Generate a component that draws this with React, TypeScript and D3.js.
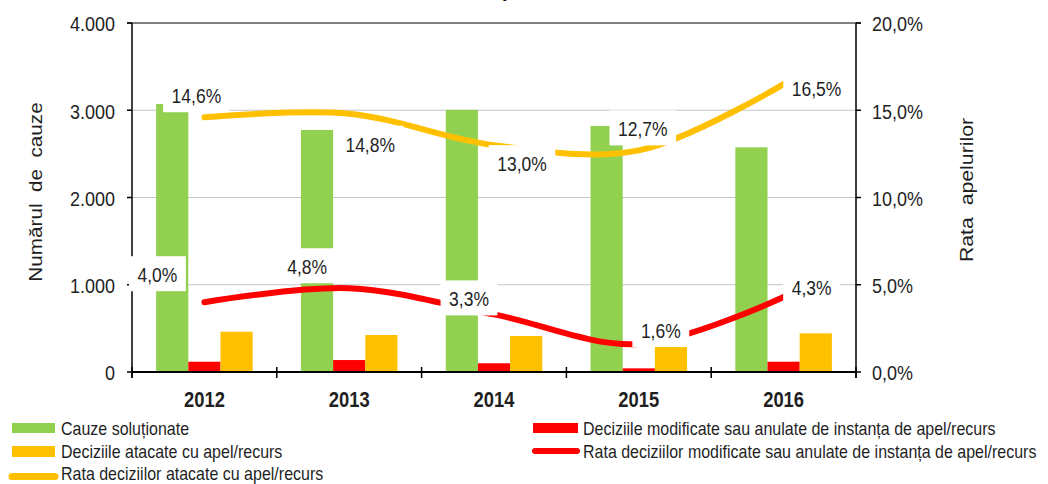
import React from 'react';
import * as d3 from 'd3';

// date
const years = ['2012', '2013', '2014', '2015', '2016'];
const cauzeSolutionate = [3072, 2774, 3005, 2820, 2575];
const deciziiModificate = [118, 137, 100, 42, 118];
const deciziiAtacate = [462, 424, 413, 290, 443];
const rataAtacate = [14.6, 14.8, 13.0, 12.7, 16.5];
const rataModificate = [4.0, 4.8, 3.3, 1.6, 4.3];
const leftTicks = [0, 1000, 2000, 3000, 4000];
const rightTicks = [0, 5, 10, 15, 20];

// unde stau etichetele fata de punct (dx, dy)
const shiftAtacate = [[-8, -22], [21, 30], [28, 18], [4, -22], [33, 4]];
const shiftModificate = [[-47, -28], [-42, -22], [-25, -16], [22, -14], [28, -10]];

const GREEN = '#92d050';
const RED = '#ff0000';
const YELLOW = '#ffc000';
const INK = '#1f1f1f';
const FONT = '"Liberation Sans", Arial, sans-serif';
const SY = 1.15;
const NB = '\u00a0';

const ro = d3.formatLocale({decimal: ',', thousands: '.', grouping: [3], currency: ['', ' lei']});
const fmtInt = ro.format(',d');
const fmtPct = ro.format('.1f');

const T = ({x, y, children, size = 18, anchor = 'middle', weight = 'normal', rotate = false}: any) => (
    <text
        transform={rotate ? `translate(${x},${y}) rotate(-90) scale(${SY},1)` : `translate(${x},${y}) scale(1,${SY})`}
        fontSize={size}
        fontFamily={FONT}
        textAnchor={anchor}
        dominantBaseline="central"
        fontWeight={weight}
        fill={INK}
    >
        {children}
    </text>
);

const charW: Record<string, number> = {',': 0.278, '%': 0.889};
const textWidth = (s: string, size: number) =>
    s.split('').reduce((a, c) => a + (charW[c] ?? 0.556), 0) * size;

const App = () => {
    const left = 132, right = 856, top = 23, bottom = 372;

    const x = d3.scaleBand().domain(years).range([left, right]).paddingInner(0).paddingOuter(0);
    const yL = d3.scaleLinear().domain([0, 4000]).range([bottom, top]);
    const yR = d3.scaleLinear().domain([0, 20]).range([bottom, top]);
    const barW = x.bandwidth() / 4.5;
    const inner = d3.scaleBand().domain(['c', 'm', 'a']).range([-1.5 * barW, 1.5 * barW]);
    const cx = (i: number) => (x(years[i]) as number) + x.bandwidth() / 2;

    const line = d3.line<number>()
        .x((d, i) => cx(i))
        .y(d => yR(d))
        .curve(d3.curveCatmullRom.alpha(0.5));

    const barSeries = [
        {key: 'c', values: cauzeSolutionate, color: GREEN},
        {key: 'm', values: deciziiModificate, color: RED},
        {key: 'a', values: deciziiAtacate, color: YELLOW},
    ];

    const labelSize = 17.5;
    const labels: any[] = [];
    rataAtacate.forEach((v, i) => labels.push({v, px: cx(i), py: yR(v), s: shiftAtacate[i]}));
    rataModificate.forEach((v, i) => labels.push({v, px: cx(i), py: yR(v), s: shiftModificate[i]}));

    const boundaries = d3.range(years.length + 1).map(k => left + k * x.bandwidth());

    return (
        <svg width={1048} height={484} style={{position: 'absolute', left: 0, top: 0, background: '#fff'}}>
            {/* titlu taiat sus */}
            <text x={508} y={-3} fontSize={20} fontWeight="bold" fontFamily={FONT} textAnchor="middle" fill="#000">p</text>

            {/* grila */}
            {leftTicks.filter(t => t > 0 && t < 4000).map(t => (
                <line key={t} x1={left} x2={right} y1={yL(t)} y2={yL(t)} stroke="#c4c4c4" strokeWidth={1.2} />
            ))}
            <line x1={left - 5} x2={right + 5} y1={top} y2={top} stroke="#808080" strokeWidth={2} />

            {/* bare */}
            {barSeries.map(s => s.values.map((v, i) => (
                <rect
                    key={s.key + i}
                    x={cx(i) + (inner(s.key) as number)}
                    width={inner.bandwidth()}
                    y={yL(v)}
                    height={yL(0) - yL(v)}
                    fill={s.color}
                />
            )))}

            {/* linii */}
            <path d={line(rataAtacate) ?? ''} fill="none" stroke={YELLOW} strokeWidth={6} strokeLinecap="round" />
            <path d={line(rataModificate) ?? ''} fill="none" stroke={RED} strokeWidth={6} strokeLinecap="round" />

            {/* axe */}
            <line x1={left} x2={left} y1={top} y2={bottom + 6} stroke="#000" strokeWidth={1.5} />
            <line x1={right} x2={right} y1={top} y2={bottom + 6} stroke="#000" strokeWidth={1.5} />
            <line x1={left} x2={right} y1={bottom} y2={bottom} stroke="#000" strokeWidth={2} />
            {leftTicks.map(t => (
                <line key={'lt' + t} x1={left - 5} x2={left} y1={yL(t)} y2={yL(t)} stroke="#000" strokeWidth={1.5} />
            ))}
            {rightTicks.map(t => (
                <line key={'rt' + t} x1={right} x2={right + 5} y1={yR(t)} y2={yR(t)} stroke="#000" strokeWidth={1.5} />
            ))}
            {boundaries.map(b => (
                <line key={'b' + b} x1={b} x2={b} y1={bottom - 5} y2={bottom + 6} stroke="#000" strokeWidth={1.5} />
            ))}

            {leftTicks.map(t => (
                <T key={'ll' + t} x={115} y={yL(t) + 1} anchor="end">{fmtInt(t)}</T>
            ))}
            {rightTicks.map(t => (
                <T key={'rl' + t} x={872} y={yR(t) + 1} anchor="start">{fmtPct(t) + '%'}</T>
            ))}
            {years.map((yr, i) => (
                <T key={yr} x={cx(i)} y={400} weight="bold" size={18.4}>{yr}</T>
            ))}

            <T x={36} y={192} rotate>{`Numărul${NB}${NB}de${NB}${NB}cauze`}</T>
            <T x={967} y={190} rotate size={18.5}>{`Rata${NB}${NB}apelurilor`}</T>

            {/* etichete cu fundal alb */}
            {labels.map((l, i) => {
                const txt = fmtPct(l.v) + '%';
                const w = textWidth(txt, labelSize);
                const tx = l.px + l.s[0];
                const ty = l.py + l.s[1];
                return (
                    <g key={'lab' + i}>
                        <rect x={tx - w / 2 - 8.5} y={ty - 18} width={w + 17} height={35} fill="#fff" />
                        <T x={tx} y={ty + 1} size={labelSize}>{txt}</T>
                    </g>
                );
            })}

            {/* legenda */}
            <rect x={12} y={423} width={43} height={10} fill={GREEN} />
            <T x={61} y={429} size={16} anchor="start">Cauze soluționate</T>
            <rect x={12} y={446} width={43} height={11} fill={YELLOW} />
            <T x={61} y={452} size={16} anchor="start">Deciziile atacate cu apel/recurs</T>
            <line x1={12} x2={55} y1={476.5} y2={476.5} stroke={YELLOW} strokeWidth={7} strokeLinecap="round" />
            <T x={61} y={474} size={16} anchor="start">Rata deciziilor atacate cu apel/recurs</T>

            <rect x={533} y={423} width={45} height={10} fill={RED} />
            <T x={583} y={429} size={16} anchor="start">Deciziile modificate sau anulate de instanța de apel/recurs</T>
            <line x1={535} x2={577} y1={451} y2={451} stroke={RED} strokeWidth={6} strokeLinecap="round" />
            <T x={583} y={452} size={16} anchor="start">Rata deciziilor modificate sau anulate de instanța de apel/recurs</T>
        </svg>
    );
};

export default App;
